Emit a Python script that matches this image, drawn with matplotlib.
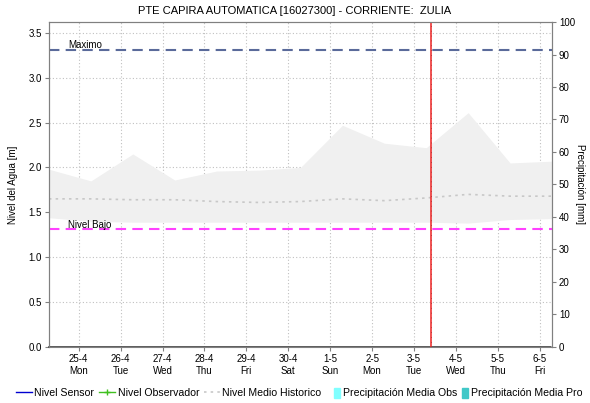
import matplotlib
matplotlib.use("Agg")
import matplotlib.pyplot as plt
from matplotlib.lines import Line2D
from matplotlib.patches import Patch
import numpy as np
import datetime as dt

plt.rcParams['font.family'] = ['Liberation Sans', 'DejaVu Sans']

# daily historic band for the station (07:00 readings)
days = [dt.datetime(2022, 4, 24, 7) + dt.timedelta(days=i) for i in range(13)]
band_high = [1.98, 1.85, 2.15, 1.86, 1.96, 1.97, 2.00, 2.47, 2.27, 2.22, 2.61, 2.05, 2.07]
band_low = [1.44, 1.40, 1.39, 1.39, 1.39, 1.39, 1.39, 1.39, 1.39, 1.39, 1.38, 1.42, 1.43]
nivel_medio = [1.65, 1.65, 1.64, 1.64, 1.62, 1.61, 1.62, 1.65, 1.63, 1.66, 1.70, 1.68, 1.68]

nivel_maximo = 3.31
nivel_bajo = 1.31
ahora = dt.datetime(2022, 5, 3, 9, 40)

fig = plt.figure(figsize=(5.9, 4.03), dpi=100)
ax = fig.add_axes([0.083, 0.139, 0.8526, 0.8064])
ax2 = ax.twinx()

ax.fill_between(days, band_low, band_high, color='#f0f0f0', lw=0, zorder=1)
ax.plot(days, nivel_medio, color='#c8c8c8', lw=1.2, ls=(0, (1.5, 2.5)), zorder=2)

ax.axhline(nivel_maximo, color='#5a6a9a', lw=1.5, ls=(0, (5, 3)), zorder=3)
ax.axhline(nivel_bajo, color='#ff40ff', lw=1.5, ls=(0, (5, 3)), zorder=3)
ax.text(days[0] + dt.timedelta(hours=11), nivel_maximo + 0.02, 'Maximo', fontsize=7)
ax.text(days[0] + dt.timedelta(hours=11), nivel_bajo + 0.02, 'Nivel Bajo', fontsize=7)

# current time marker
ax.axvline(ahora, color='#ee2222', lw=1.1, zorder=4)
ax.axvline(ahora, color='#902020', lw=0.5, ls=(0, (1, 6)), zorder=5)

ax.set_xlim(days[0], days[-1])
ax.set_ylim(0, 3.62)
ax2.set_ylim(0, 100)

ax.set_yticks(np.arange(0, 3.51, 0.5))
ax.set_yticklabels([f'{v:.1f}' for v in np.arange(0, 3.51, 0.5)])
ax2.set_yticks(range(0, 101, 10))

ticks = [dt.datetime(2022, 4, 25) + dt.timedelta(days=i) for i in range(12)]
ax.set_xticks(ticks)
ax.set_xticklabels([f'{t.day}-{t.month}\n{t.strftime("%a")}' for t in ticks])

ax.grid(True, color='#c0c0c0', ls=(0, (1, 2)), lw=0.8)
ax.set_axisbelow(True)

for a in (ax, ax2):
    a.tick_params(labelsize=7, length=3, width=0.8, color='#808080', pad=2)
    for s in a.spines.values():
        s.set_color('#808080')
ax.spines['bottom'].set_linestyle((0, (1, 1)))
ax.spines['bottom'].set_color('#404040')
ax.spines['bottom'].set_linewidth(1.2)

ax.set_ylabel('Nivel del Agua [m]', fontsize=7, labelpad=8)
ax2.set_ylabel('Precipitación [mm]', fontsize=7, rotation=-90, labelpad=7)
fig.suptitle('PTE CAPIRA AUTOMATICA [16027300] - CORRIENTE:  ZULIA', fontsize=8, y=0.985)

# line series legend, then the narrow precipitation swatches
line_handles = [
    Line2D([], [], color='#0000d0', lw=1.0),
    Line2D([], [], color='#40c020', lw=1.0, marker='+', markersize=4),
    Line2D([], [], color='#c8c8c8', lw=1.2, ls=(0, (1.5, 2.5))),
]
line_labels = ['Nivel Sensor', 'Nivel Observador', 'Nivel Medio Historico']
bar_handles = [Patch(color='#80ffff'), Patch(color='#40c8c8')]
bar_labels = ['Precipitación Media Obs', 'Precipitación Media Pro']

common = dict(loc='lower left', frameon=False, fontsize=7.6, borderpad=0,
              borderaxespad=0, handletextpad=0.25, columnspacing=0.45)
fig.legend(line_handles, line_labels, bbox_to_anchor=(0.027, 0.012),
           ncol=3, handlelength=1.5, **common)
fig.legend(bar_handles, bar_labels, bbox_to_anchor=(0.566, 0.012),
           ncol=2, handlelength=0.6, handleheight=1.1, **common)

fig.savefig('out.png', dpi=100)
